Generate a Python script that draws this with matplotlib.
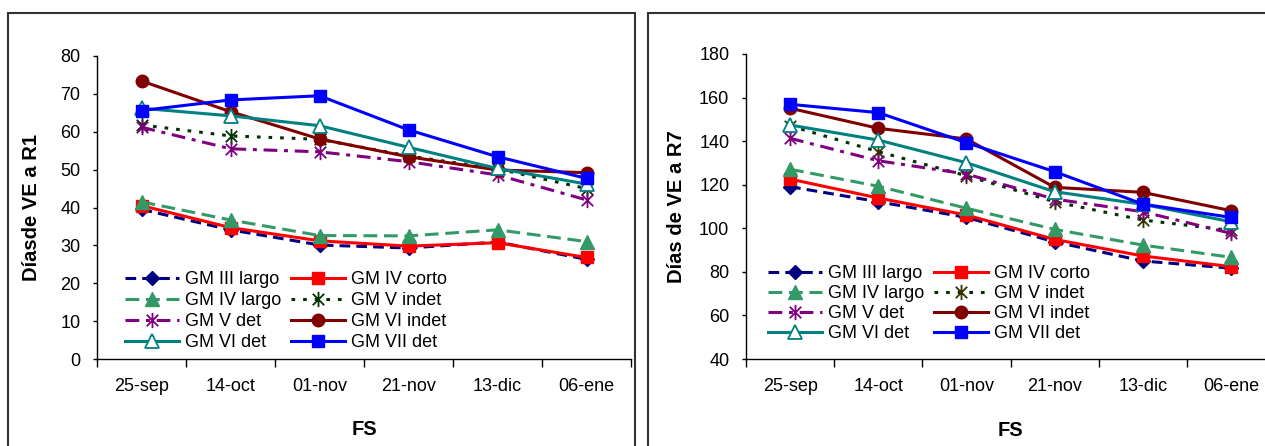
import matplotlib
matplotlib.use("Agg")
import matplotlib.pyplot as plt
from matplotlib.patches import Rectangle
from matplotlib.path import Path

# --------------------------------------------------
# DATA
# --------------------------------------------------

fechas = ["25-sep", "14-oct", "01-nov", "21-nov", "13-dic", "06-ene"]

series = ["GM III largo", "GM IV corto", "GM IV largo", "GM V indet",
          "GM V det", "GM VI indet", "GM VI det", "GM VII det"]

# Dias de VE a R1
r1_iii_largo = [39.5, 34.1, 30.1, 29.3, 30.9, 26.3]
r1_iv_corto = [40.5, 34.7, 31.2, 29.8, 30.7, 26.8]
r1_iv_largo = [41.5, 36.7, 32.6, 32.5, 34.1, 31.0]
r1_v_indet = [61.8, 58.9, 58.0, 53.6, 50.2, 45.0]
r1_v_det = [61.2, 55.5, 54.7, 52.1, 48.6, 42.0]
r1_vi_indet = [73.4, 65.3, 58.1, 53.4, 49.9, 49.2]
r1_vi_det = [66.2, 64.2, 61.6, 55.9, 50.3, 46.2]
r1_vii_det = [65.6, 68.4, 69.5, 60.5, 53.4, 47.7]

# Dias de VE a R7
r7_iii_largo = [119.1, 112.2, 105.0, 93.8, 85.0, 81.7]
r7_iv_corto = [122.6, 113.9, 106.1, 94.9, 87.3, 82.4]
r7_iv_largo = [127.1, 119.3, 109.2, 99.5, 92.3, 86.7]
r7_v_indet = [147.0, 135.2, 124.1, 112.2, 103.8, 99.0]
r7_v_det = [141.3, 131.0, 124.9, 113.4, 107.6, 97.7]
r7_vi_indet = [155.1, 145.9, 141.0, 118.8, 116.5, 108.1]
r7_vi_det = [147.4, 140.5, 130.1, 116.8, 111.0, 103.0]
r7_vii_det = [156.9, 153.1, 139.3, 126.0, 111.1, 105.0]

r1 = [r1_iii_largo, r1_iv_corto, r1_iv_largo, r1_v_indet,
      r1_v_det, r1_vi_indet, r1_vi_det, r1_vii_det]
r7 = [r7_iii_largo, r7_iv_corto, r7_iv_largo, r7_v_indet,
      r7_v_det, r7_vi_indet, r7_vi_det, r7_vii_det]

# --------------------------------------------------
# STYLE
# --------------------------------------------------

plt.rcParams["font.family"] = ["Liberation Sans", "DejaVu Sans"]

star = Path([(0, -1), (0, 1), (-0.75, -0.75), (0.75, 0.75), (-0.75, 0.75), (0.75, -0.75)],
            [Path.MOVETO, Path.LINETO, Path.MOVETO, Path.LINETO, Path.MOVETO, Path.LINETO])

estilos = [
    dict(color="#000080", ls=(0, (3.5, 2)), marker="D", ms=7, mfc="#000080", mec="#000080"),
    dict(color="#FF0000", ls="-", marker="s", ms=8, mfc="#FF0000", mec="#FF0000"),
    dict(color="#339966", ls=(0, (4.5, 2.2)), marker="^", ms=9.5, mfc="#339966", mec="#339966"),
    dict(color="#003300", ls=(0, (1.2, 2.6)), marker=star, ms=11, mfc="none", mec="#003300", mew=1.3),
    dict(color="#800080", ls=(0, (4.5, 2.2, 1.3, 2.2)), marker=star, ms=11, mfc="none", mec="#800080", mew=1.3),
    dict(color="#800000", ls="-", marker="o", ms=9, mfc="#800000", mec="#800000"),
    dict(color="#008080", ls="-", marker="^", ms=9.5, mfc="white", mec="#008080", mew=1.3),
    dict(color="#0000FF", ls="-", marker="s", ms=9, mfc="#0000FF", mec="#0000FF"),
]

W, H = 1265, 446


def panel(fig, rect, datos, ymin, ymax, paso, ylabel, ylab_x, leg_xy, v_indet_mec, lsp):
    ax = fig.add_axes(rect)
    x = [i + 0.5 for i in range(len(fechas))]
    lineas = []
    for nombre, vals, st in zip(series, datos, estilos):
        st = dict(st)
        if nombre == "GM V indet":
            st["mec"] = v_indet_mec
        ln, = ax.plot(x, vals, lw=2.2, label=nombre, clip_on=False, **st)
        lineas.append(ln)

    ax.set_xlim(0, 6)
    ax.set_ylim(ymin, ymax)
    ax.set_yticks(range(ymin, ymax + 1, paso))
    ax.set_xticks(range(7))
    ax.set_xticklabels([])
    ax.set_xticks(x, minor=True)
    ax.set_xticklabels(fechas, minor=True)
    ax.tick_params(axis="x", which="major", direction="out", length=6, width=1)
    ax.tick_params(axis="x", which="minor", length=0, pad=14, labelsize=13)
    ax.tick_params(axis="y", direction="out", length=3, width=1, pad=9, labelsize=13)
    for s in ["top", "right"]:
        ax.spines[s].set_visible(False)
    for s in ["left", "bottom"]:
        ax.spines[s].set_linewidth(1)
        ax.spines[s].set_color("black")

    ax.set_ylabel(ylabel, fontsize=14.5, fontweight="bold")
    ax.yaxis.set_label_coords(ylab_x, 0.5)
    ax.yaxis.label.set_va("center")
    ax.set_xlabel("FS", fontsize=14.5, fontweight="bold")
    ax.xaxis.set_label_coords(0.5, -0.234)
    ax.xaxis.label.set_va("center")

    orden = [0, 2, 4, 6, 1, 3, 5, 7]
    ax.legend([lineas[i] for i in orden], [series[i] for i in orden],
              ncol=2, loc="upper left", frameon=False, fontsize=13,
              bbox_to_anchor=(leg_xy[0] / W, 1 - leg_xy[1] / H),
              bbox_transform=fig.transFigure, borderpad=0, borderaxespad=0,
              handlelength=3.0, handletextpad=0.35, columnspacing=0.5,
              labelspacing=lsp, numpoints=1)
    return ax


def main():
    fig = plt.figure(figsize=(W / 100, H / 100), dpi=100)

    # marcos de cada grafico
    fig.patches.append(Rectangle((8 / W, -0.1), (635 - 8) / W, 1.1 - 13 / H,
                                 transform=fig.transFigure, fill=False,
                                 edgecolor="#333333", lw=1.5))
    fig.patches.append(Rectangle((648 / W, -0.1), 0.6, 1.1 - 13 / H,
                                 transform=fig.transFigure, fill=False,
                                 edgecolor="#333333", lw=1.5))

    panel(fig, [97 / W, 87 / H, 534 / W, 303 / H], r1, 0, 80, 10,
          "Díasde VE a R1", -0.122, (125, 271), "#003300", 0.22)
    panel(fig, [746 / W, 87 / H, 529 / W, 305 / H], r7, 40, 180, 20,
          "Días de VE a R7", -0.132, (768, 265), "#333300", 0.17)

    fig.savefig("out.png", dpi=100)
    plt.close(fig)


if __name__ == "__main__":
    main()
